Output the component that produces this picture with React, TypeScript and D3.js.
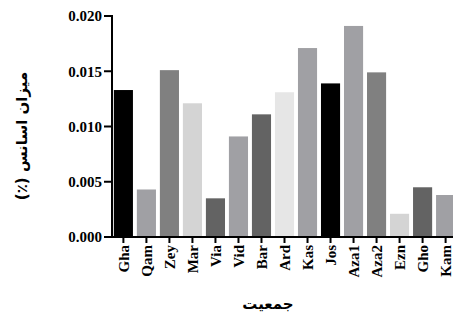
import React from "react";
import * as d3 from "d3";

const populations = ["Gha", "Qam", "Zey", "Mar", "Via", "Vid", "Bar", "Ard", "Kas", "Jos", "Aza1", "Aza2", "Ezn", "Gho", "Kam"];
const oilContent = [0.0133, 0.0043, 0.0151, 0.0121, 0.0035, 0.0091, 0.0111, 0.0131, 0.0171, 0.0139, 0.0191, 0.0149, 0.0021, 0.0045, 0.0038];
const barColors = ["#000000", "#a0a0a4", "#808080", "#d4d4d4", "#636363", "#a0a0a4", "#636363", "#e6e6e6", "#a0a0a4", "#000000", "#a0a0a4", "#808080", "#d4d4d4", "#636363", "#a0a0a4"];
const yTicks = [0, 0.005, 0.01, 0.015, 0.02];

const App = () => {
  const width = 453;
  const height = 320;
  const left = 112;
  const top = 16;
  const bottom = 237;

  const x = d3
    .scaleBand<string>()
    .domain(populations)
    .range([left, 457])
    .paddingInner(0.17)
    .paddingOuter(0.08);

  const y = d3.scaleLinear().domain([0, 0.02]).range([bottom, top]);

  const serif = { fontFamily: "Liberation Serif", fontWeight: 700, fontSize: 15 };
  const arabic = { fontFamily: "DejaVu Sans", fontWeight: 700, fontSize: 15 };

  return (
    <div>
      <style>{"body{margin:0}"}</style>
      <svg width={width} height={height} style={{ display: "block", background: "#fff" }}>
        {/* bars */}
        {populations.map((p, i) => (
          <rect
            key={p}
            x={x(p)}
            y={y(oilContent[i])}
            width={x.bandwidth()}
            height={bottom - y(oilContent[i])}
            fill={barColors[i]}
          />
        ))}

        {/* y axis */}
        <line x1={left} x2={left} y1={top - 1} y2={bottom + 1} stroke="#000" strokeWidth={2} />
        {yTicks.map((t) => (
          <g key={t} transform={`translate(0,${y(t)})`}>
            <line x1={left - 8} x2={left} stroke="#000" strokeWidth={2} />
            <text x={left - 10} dy="0.35em" textAnchor="end" style={serif} fill="#000">
              {d3.format(".3f")(t)}
            </text>
          </g>
        ))}

        {/* x axis */}
        <line x1={left - 1} x2={width} y1={bottom} y2={bottom} stroke="#000" strokeWidth={2} />
        {populations.map((p) => {
          const cx = (x(p) ?? 0) + x.bandwidth() / 2;
          return (
            <g key={p} transform={`translate(${cx},${bottom})`}>
              <line y1={0} y2={6} stroke="#000" strokeWidth={2} />
              <text
                transform="translate(0,8) rotate(-90)"
                dy="0.35em"
                textAnchor="end"
                style={serif}
                fill="#000"
              >
                {p}
              </text>
            </g>
          );
        })}

        {/* axis titles */}
        <text
          transform="translate(27,136) rotate(-90)"
          textAnchor="middle"
          style={arabic}
          direction="rtl"
          fill="#000"
        >
          میزان اسانس (٪)
        </text>
        <text x={268} y={309} textAnchor="middle" style={arabic} direction="rtl" fill="#000">
          جمعیت
        </text>
      </svg>
    </div>
  );
};

export default App;
